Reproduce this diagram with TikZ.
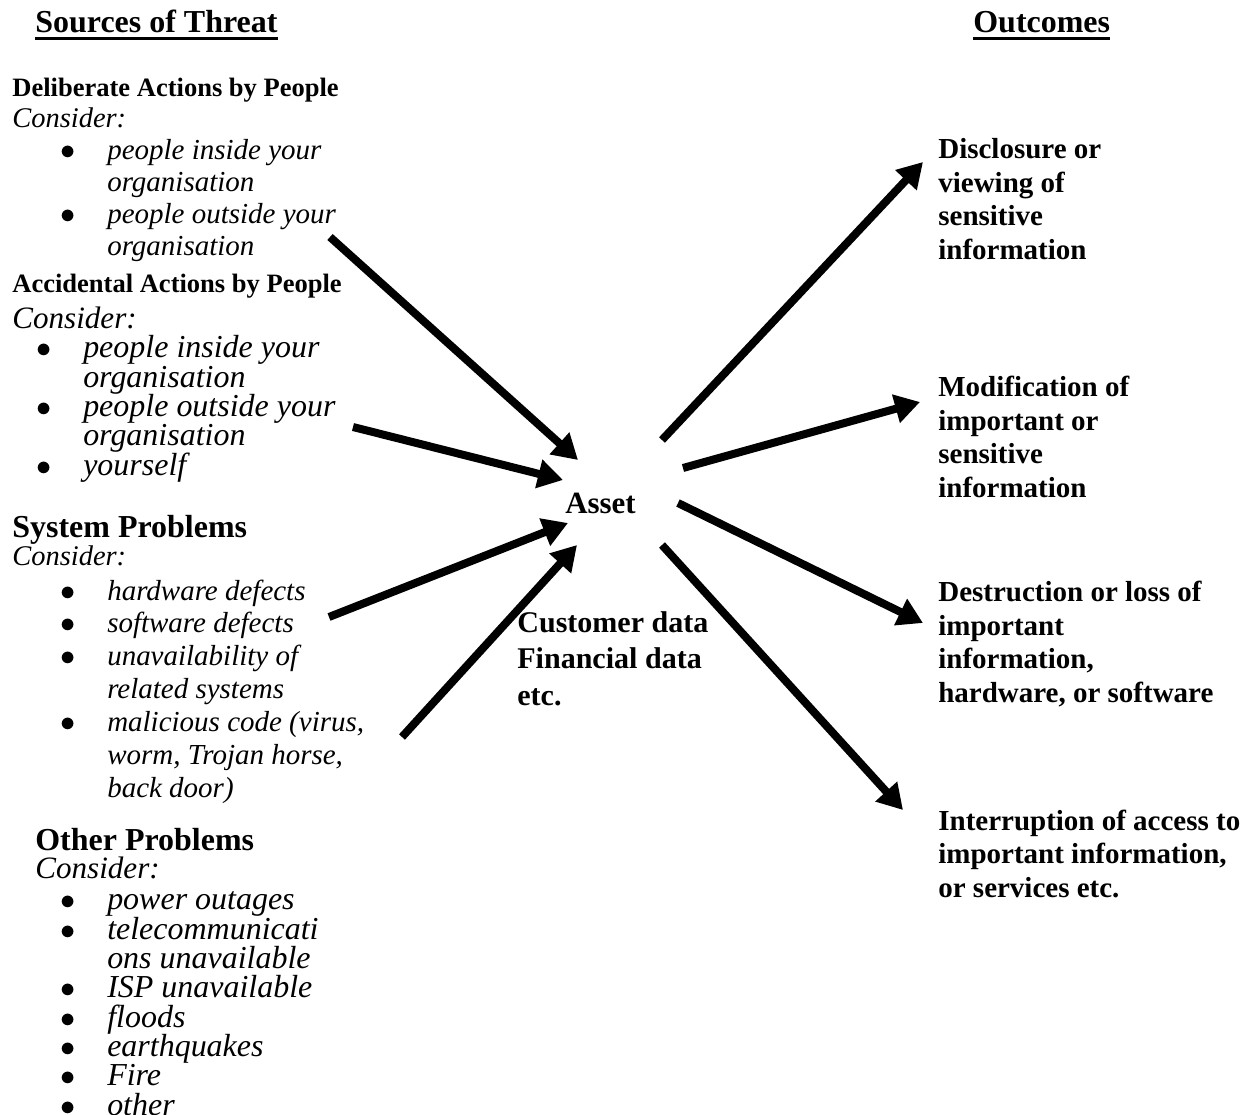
\documentclass[tikz,border=0pt]{standalone}
\usepackage{fontspec}
\setmainfont{Liberation Serif}
\usetikzlibrary{arrows.meta}

% bullet and hanging indent for the lists
\newcommand{\bul}{\makebox[26.7pt][l]{$\bullet$}}
\newcommand{\gap}{\hspace*{26.7pt}}
% lines closer than the font would normally allow
\newcommand{\tightlines}{\lineskiplimit=-20pt\relax}

\begin{document}
\begin{tikzpicture}
        [x=0.02cm,y=-0.02cm,
         every node/.style={anchor=base west,inner sep=0pt,align=left},
         head/.style={font=\fontsize{18.2}{21}\selectfont\bfseries},
         group/.style={font=\fontsize{15.1}{18}\selectfont\bfseries},
         topic/.style={font=\fontsize{18.2}{21}\selectfont\bfseries},
         hint/.style={font=\fontsize{#1}{20}\selectfont\itshape},
         items/.style={font=\tightlines\fontsize{16.5}{#1}\selectfont\itshape},
         bigitems/.style={font=\tightlines\fontsize{18.2}{#1}\selectfont\itshape},
         asset/.style={font=\fontsize{17.6}{21}\selectfont\bfseries},
         data/.style={font=\fontsize{17.1}{20.77}\selectfont\bfseries},
         outcome/.style={font=\fontsize{16.5}{19.06}\selectfont\bfseries},
         uline/.style={line width=0.06cm},
         arr/.style={line width=0.16cm,-{Triangle[length=0.5cm,width=0.56cm]}}]
        \useasboundingbox (0,0) rectangle (1258,1115);

        % column headings
        \node[head] (src) at (35,33) {Sources of Threat};
        \node[head] (res) at (973,33) {Outcomes};
        \draw[uline] ([yshift=-0.12cm]src.base west) -- ([yshift=-0.12cm]src.base east);
        \draw[uline] ([yshift=-0.12cm]res.base west) -- ([yshift=-0.12cm]res.base east);

        % sources (multi-line nodes sit on the baseline of their last line)
        \node[group] (delib) at (12,97) {Deliberate Actions by People};
        \node[hint=16.2] (delibc) at (12,128) {Consider:};
        \node[items=18.04] (delibl) at (60,255)
          {\bul people inside your\\\gap organisation\\\bul people outside your\\\gap organisation};

        \node[group] (accid) at (12,292) {Accidental Actions by People};
        \node[hint=17.7] (accidc) at (12,328) {Consider:};
        \node[bigitems=16.67] (accidl) at (36,475)
          {\bul people inside your\\\gap organisation\\\bul people outside your\\\gap organisation\\\bul yourself};

        \node[topic] (sys) at (12,537) {System Problems};
        \node[hint=16.2] (sysc) at (12,565) {Consider:};
        \node[items=18.67] (sysl) at (60,797)
          {\bul hardware defects\\\bul software defects\\\bul unavailability of\\\gap related systems\\
           \bul malicious code (virus,\\\gap worm, Trojan horse,\\\gap back door)};

        \node[topic] (oth) at (35,850) {Other Problems};
        \node[hint=17.7] (othc) at (35,878) {Consider:};
        \node[bigitems=16.67] (othl) at (60,1115)
          {\bul power outages\\\bul telecommunicati\\\gap ons unavailable\\\bul ISP unavailable\\
           \bul floods\\\bul earthquakes\\\bul Fire\\\bul other};

        % the asset
        \node[asset] (asset) at (565,513) {Asset};
        \node[data] (data) at (517,705) {Customer data\\Financial data\\etc.};

        % outcomes
        \node[outcome] (disc) at (938,259) {Disclosure or\\viewing of\\sensitive\\information};
        \node[outcome] (modif) at (938,497) {Modification of\\important or\\sensitive\\information};
        \node[outcome] (destr) at (938,702) {Destruction or loss of\\important\\information,\\hardware, or software};
        \node[outcome] (interr) at (938,897) {Interruption of access to\\important information,\\or services etc.};

        % arrow ends
        \coordinate (i1) at (330,237); \coordinate (a1) at (578,460);
        \coordinate (i2) at (353,427); \coordinate (a2) at (563,480);
        \coordinate (i3) at (329,617); \coordinate (a3) at (568,523);
        \coordinate (i4) at (402,737); \coordinate (a4) at (577,545);
        \coordinate (b1) at (662,440); \coordinate (t1) at (923,162);
        \coordinate (b2) at (683,468); \coordinate (t2) at (920,402);
        \coordinate (b3) at (678,503); \coordinate (t3) at (923,623);
        \coordinate (b4) at (662,545); \coordinate (t4) at (903,810);

        \foreach \from/\to in {i1/a1, i2/a2, i3/a3, i4/a4, b1/t1, b2/t2, b3/t3, b4/t4}
            \draw[arr] (\from) -- (\to);

      \end{tikzpicture}
\end{document}
